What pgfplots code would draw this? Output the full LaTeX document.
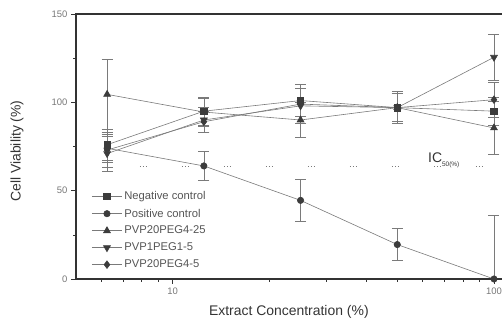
\documentclass[border=0pt]{standalone}
\usepackage{pgfplots}
\pgfplotsset{compat=1.18}
\usepackage{fontspec}
\setmainfont{Liberation Sans}
\definecolor{axc}{HTML}{333333}
\definecolor{lnc}{HTML}{7A7A7A}
\definecolor{mkc}{HTML}{3C3C3C}
\definecolor{txc}{HTML}{555555}
\definecolor{tkc}{HTML}{777777}
\begin{document}
\begin{tikzpicture}
\begin{axis}[
  at={(76bp,46bp)}, anchor=south west,
  scale only axis, width=430bp, height=265bp,
  xmode=log, xmin=5, xmax=109, ymin=0, ymax=150,
  log basis x=10,
  xtick={10,100}, xticklabels={10,100},
  minor xtick={6,7,8,9,20,30,40,50,60,70,80,90},
  ytick={0,50,100,150}, minor ytick={25,75,125},
  xtick pos=bottom, ytick pos=left,
  tick align=outside,
  major tick length=5bp, minor tick length=3bp,
  every tick/.style={axc, line width=0.6bp},
  axis line style={axc, line width=1.1bp},
  tick label style={font=\fontsize{9.5}{11}\selectfont, text=tkc},
  /pgf/number format/assume math mode=true,
  xlabel={Extract Concentration (\%)},
  ylabel={Cell Viability (\%)},
  label style={font=\fontsize{14}{16}\selectfont, text=axc},
  xlabel style={at={(axis description cs:0.495,-0.125)}, anchor=center},
  ylabel style={at={(axis description cs:-0.137,0.483)}, anchor=center, rotate=0},
  legend style={at={(axis description cs:0.036,0.338)}, anchor=north west,
    draw=none, fill=none, font=\fontsize{11.3}{12.5}\selectfont, text=txc,
    row sep=3.6bp, inner sep=0pt},
  legend cell align=left,
  legend image code/.code={
    \draw[#1, mark repeat=2, mark phase=2] plot coordinates {(0bp,0bp) (15bp,0bp) (30bp,0bp)};
  },
  error bars/y dir=both, error bars/y explicit,
  error bars/error bar style={lnc, line width=0.6bp, solid},
  error bars/error mark options={lnc, line width=0.6bp, mark size=5.5bp, rotate=90},
]
\addplot[lnc, line width=0.6bp, dash pattern=on 1bp off 2bp on 1bp off 2bp on 1bp off 35bp, forget plot, error bars/y dir=none] coordinates {(7.91,64) (97.2,64)};
% Negative control
\addplot[lnc, line width=0.6bp, mark=square*, mark size=3.2bp, mark options={fill=mkc, draw=mkc, solid}] coordinates {
 (6.25,76) +- (0,9)
 (12.5,95) +- (0,8)
 (25,101) +- (0,9)
 (50,97) +- (0,8)
 (100,95) +- (0,8)
};
\addlegendentry{Negative control}
% Positive control
\addplot[lnc, line width=0.6bp, mark=*, mark size=3.2bp, mark options={fill=mkc, draw=mkc, solid}] coordinates {
 (6.25,74) +- (0,8)
 (12.5,64) +- (0,8)
 (25,44.5) +- (0,12)
 (50,19.5) +- (0,9)
 (100,0) +- (0,36)
};
\addlegendentry{Positive control}
% PVP20PEG4-25
\addplot[lnc, line width=0.6bp, mark=triangle*, mark size=4bp, mark options={fill=mkc, draw=mkc, solid}] coordinates {
 (6.25,104.5) +- (0,20)
 (12.5,94.5) +- (0,8)
 (25,90) +- (0,10)
 (50,97) +- (0,8)
 (100,85.5) +- (0,15)
};
\addlegendentry{PVP20PEG4-25}
% PVP1PEG1-5
\addplot[lnc, line width=0.6bp, mark=triangle*, mark size=4bp, mark options={fill=mkc, draw=mkc, solid, rotate=180}] coordinates {
 (6.25,71) +- (0,10)
 (12.5,90) +- (0,7)
 (25,98) +- (0,10)
 (50,97) +- (0,8)
 (100,125.5) +- (0,13)
};
\addlegendentry{PVP1PEG1-5}
% PVP20PEG4-5
\addplot[lnc, line width=0.6bp, mark=diamond*, mark size=3.8bp, mark options={fill=mkc, draw=mkc, solid}] coordinates {
 (6.25,73) +- (0,10)
 (12.5,89) +- (0,6)
 (25,99) +- (0,11)
 (50,97) +- (0,9)
 (100,101.5) +- (0,10)
};
\addlegendentry{PVP20PEG4-5}
\node[anchor=base west, inner sep=0pt, text=axc, font=\fontsize{14}{16}\selectfont] at (axis cs:62.3,65.8) {IC\raisebox{-0.45ex}{\fontsize{6.5}{7}\selectfont 50(\%)}};
\end{axis}
\pgfresetboundingbox
\useasboundingbox (0,0) rectangle (502bp,325bp);
\end{tikzpicture}
\end{document}
